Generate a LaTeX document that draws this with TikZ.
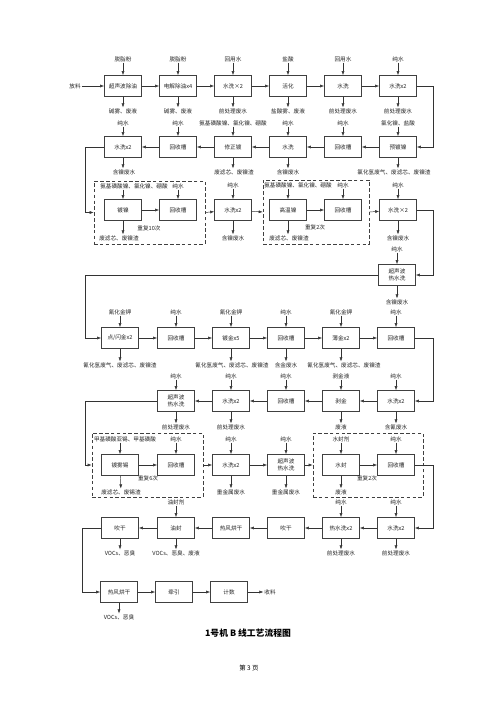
\documentclass[tikz,border=0pt]{standalone}
\usepackage{fontspec}
\setmainfont{Noto Sans CJK SC}
\usetikzlibrary{arrows.meta}

\newcommand{\lblfont}{\fontsize{4.8}{5.6}\selectfont}

\tikzset{
  proc/.style={draw=black!75,line width=0.5pt,minimum width=1.11cm,minimum height=0.63cm,inner sep=1pt,align=center,font=\lblfont,text=black!85},
  lbl/.style={inner sep=0.6pt,font=\lblfont,text=black!85},
  grp/.style={draw=black!75,densely dashed,line width=0.5pt,inner sep=0pt},
  arr/.style={-{Latex[length=1.2mm,width=0.9mm]},draw=black!80,line width=0.4pt},
}

\begin{document}
\begin{tikzpicture}[x=0.03cm,y=-0.03cm]
\useasboundingbox[fill=white] (0,0) rectangle (500,707);
\coordinate (rt) at (433,0);
\coordinate (lf) at (85,0);
\coordinate (lf2) at (82,0);

% row 1
\node[lbl] (fl) at (75,86) {放料};
\node[proc] (a1) at (123,86) {超声波除油};
\node[proc] (a2) at (178,86) {电解除油x4};
\node[proc] (a3) at (233,86) {水洗×2};
\node[proc] (a4) at (288,86) {活化};
\node[proc] (a5) at (343,86) {水洗};
\node[proc] (a6) at (398,86) {水洗x2};
\node[lbl] (ia1) at (123,59) {脱脂粉};
\node[lbl] (ia2) at (178,59) {脱脂粉};
\node[lbl] (ia3) at (233,59) {回用水};
\node[lbl] (ia4) at (288,59) {盐酸};
\node[lbl] (ia5) at (343,59) {回用水};
\node[lbl] (ia6) at (398,59) {纯水};
\node[lbl] (oa1) at (123,111) {碱雾、废液};
\node[lbl] (oa2) at (178,111) {碱雾、废液};
\node[lbl] (oa3) at (233,111) {前处理废水};
\node[lbl] (oa4) at (288,111) {盐酸雾、废液};
\node[lbl] (oa5) at (343,111) {前处理废水};
\node[lbl] (oa6) at (398,111) {前处理废水};
\draw[arr] (fl)--(a1);
\draw[arr] (a1)--(a2);
\draw[arr] (a2)--(a3);
\draw[arr] (a3)--(a4);
\draw[arr] (a4)--(a5);
\draw[arr] (a5)--(a6);
\draw[arr] (ia1)--(a1);
\draw[arr] (ia2)--(a2);
\draw[arr] (ia3)--(a3);
\draw[arr] (ia4)--(a4);
\draw[arr] (ia5)--(a5);
\draw[arr] (ia6)--(a6);
\draw[arr] (a1)--(oa1);
\draw[arr] (a2)--(oa2);
\draw[arr] (a3)--(oa3);
\draw[arr] (a4)--(oa4);
\draw[arr] (a5)--(oa5);
\draw[arr] (a6)--(oa6);

% row 2
\node[proc] (b1) at (123,147) {水洗x2};
\node[proc] (b2) at (178,147) {回收槽};
\node[proc] (b3) at (233,147) {修正镀};
\node[proc] (b4) at (288,147) {水洗};
\node[proc] (b5) at (343,147) {回收槽};
\node[proc] (b6) at (398,147) {预镀镍};
\node[lbl] (ib1) at (123,123) {纯水};
\node[lbl] (ib2) at (178,123) {纯水};
\node[lbl] (ib3) at (233,123) {氨基磺酸镍、氯化镍、硼酸};
\node[lbl] (ib4) at (288,123) {纯水};
\node[lbl] (ib5) at (343,123) {纯水};
\node[lbl] (ib6) at (398,123) {氯化镍、盐酸};
\node[lbl] (ob1) at (124,172) {含镍废水};
\node[lbl] (ob3) at (234,172) {废滤芯、废镍渣};
\node[lbl] (ob4) at (288,172) {含镍废水};
\node[lbl] (ob6) at (394,172) {氯化氢废气、废滤芯、废镍渣};
\draw[arr] (a6.east)--(a6.east -| rt) |- (b6.east);
\draw[arr] (b6)--(b5);
\draw[arr] (b5)--(b4);
\draw[arr] (b4)--(b3);
\draw[arr] (b3)--(b2);
\draw[arr] (b2)--(b1);
\draw[arr] (ib1)--(b1);
\draw[arr] (ib2)--(b2);
\draw[arr] (ib3)--(b3);
\draw[arr] (ib4)--(b4);
\draw[arr] (ib5)--(b5);
\draw[arr] (ib6)--(b6);
\draw[arr] (b1.south)--(b1.south |- ob1.north);
\draw[arr] (b3.south)--(b3.south |- ob3.north);
\draw[arr] (b4)--(ob4);
\draw[arr] (b6.south)--(b6.south |- ob6.north);

% row 3
\node[grp,minimum width=3.33cm,minimum height=1.89cm] (g1) at (149.5,212.5) {};
\node[grp,minimum width=3.18cm,minimum height=1.92cm] (g2) at (316,212) {};
\node[proc] (c1) at (123,210) {镀镍};
\node[proc] (c2) at (178,210) {回收槽};
\node[proc] (c3) at (233,210) {水洗x2};
\node[proc] (c4) at (288,210) {高温镍};
\node[proc] (c5) at (343,210) {回收槽};
\node[proc] (c6) at (398,210) {水洗×2};
\node[lbl] (ic1) at (134,186) {氨基磺酸镍、氯化镍、硼酸};
\node[lbl] (ic2) at (178,186) {纯水};
\node[lbl] (ic3) at (233,185) {纯水};
\node[lbl] (ic4) at (298,185) {氨基磺酸镍、氯化镍、硼酸};
\node[lbl] (ic5) at (343,185) {纯水};
\node[lbl] (ic6) at (398,185) {纯水};
\node[lbl] (oc1) at (119,238) {废滤芯、废镍渣};
\node[lbl] (oc3) at (233,238) {含镍废水};
\node[lbl] (oc4) at (289,238) {废滤芯、废镍渣};
\node[lbl] (oc6) at (398,238) {含镍废水};
\node[lbl] (rp1) at (149,228) {重复10次};
\node[lbl] (rp2) at (315,227) {重复2次};
\draw[arr] (b1.west)--(b1.west -| lf) |- (g1.west);
\draw[arr] (c1)--(c2);
\draw[arr] (g1.east)--(c3);
\draw[arr] (c3)--(g2.west);
\draw[arr] (c4)--(c5);
\draw[arr] (g2.east)--(c6);
\draw[arr] (c1.north |- ic1.south)--(c1.north);
\draw[arr] (ic2)--(c2);
\draw[arr] (ic3)--(c3);
\draw[arr] (c4.north |- ic4.south)--(c4.north);
\draw[arr] (ic5)--(c5);
\draw[arr] (ic6)--(c6);
\draw[arr] (c1.south)--(c1.south |- oc1.north);
\draw[arr] (c3)--(oc3);
\draw[arr] (c4.south)--(c4.south |- oc4.north);
\draw[arr] (c6)--(oc6);

% ultrasonic hot rinse
\node[proc] (s1) at (397,275) {超声波\\热水洗};
\node[lbl] (is1) at (397,249) {纯水};
\node[lbl] (os1) at (397,302) {含镍废水};
\draw[arr] (c6.east)--(c6.east -| rt) |- (s1.east);
\draw[arr] (is1)--(s1);
\draw[arr] (s1)--(os1);

% row 4
\node[proc] (d1) at (120,338) {点/闪金x2};
\node[proc] (d2) at (176,338) {回收槽};
\node[proc] (d3) at (231,338) {镀金x5};
\node[proc] (d4) at (286,338) {回收槽};
\node[proc] (d5) at (341,338) {薄金x2};
\node[proc] (d6) at (396,338) {回收槽};
\node[lbl] (id1) at (120,312) {氰化金钾};
\node[lbl] (id2) at (176,312) {纯水};
\node[lbl] (id3) at (231,312) {氰化金钾};
\node[lbl] (id4) at (286,312) {纯水};
\node[lbl] (id5) at (341,312) {氰化金钾};
\node[lbl] (id6) at (396,312) {纯水};
\node[lbl] (od1) at (120,365) {氰化氢废气、废滤芯、废镍渣};
\node[lbl] (od3) at (232,365) {氰化氢废气、废滤芯、废镍渣};
\node[lbl] (od4) at (286,365) {含金废水};
\node[lbl] (od5) at (344,365) {氰化氢废气、废滤芯、废镍渣};
\draw[arr] (s1.west)--(s1.west -| lf) |- (d1.west);
\draw[arr] (d1)--(d2);
\draw[arr] (d2)--(d3);
\draw[arr] (d3)--(d4);
\draw[arr] (d4)--(d5);
\draw[arr] (d5)--(d6);
\draw[arr] (id1)--(d1);
\draw[arr] (id2)--(d2);
\draw[arr] (id3)--(d3);
\draw[arr] (id4)--(d4);
\draw[arr] (id5)--(d5);
\draw[arr] (id6)--(d6);
\draw[arr] (d1)--(od1);
\draw[arr] (d3.south)--(d3.south |- od3.north);
\draw[arr] (d4)--(od4);
\draw[arr] (d5.south)--(d5.south |- od5.north);

% row 5
\node[proc] (e2) at (176,401) {超声波\\热水洗};
\node[proc] (e3) at (231,401) {水洗x2};
\node[proc] (e4) at (286,401) {回收槽};
\node[proc] (e5) at (341,401) {剥金};
\node[proc] (e6) at (396,401) {水洗x2};
\node[lbl] (ie2) at (176,376) {纯水};
\node[lbl] (ie3) at (231,376) {纯水};
\node[lbl] (ie4) at (286,376) {纯水};
\node[lbl] (ie5) at (341,376) {剥金液};
\node[lbl] (ie6) at (396,376) {纯水};
\node[lbl] (oe2) at (176,427) {前处理废水};
\node[lbl] (oe3) at (231,427) {前处理废水};
\node[lbl] (oe5) at (341,427) {废液};
\node[lbl] (oe6) at (396,427) {含氰废水};
\draw[arr] (d6.east)--(d6.east -| rt) |- (e6.east);
\draw[arr] (e6)--(e5);
\draw[arr] (e5)--(e4);
\draw[arr] (e4)--(e3);
\draw[arr] (e3)--(e2);
\draw[arr] (ie2)--(e2);
\draw[arr] (ie3)--(e3);
\draw[arr] (ie4)--(e4);
\draw[arr] (ie5)--(e5);
\draw[arr] (ie6)--(e6);
\draw[arr] (e2)--(oe2);
\draw[arr] (e3)--(oe3);
\draw[arr] (e5)--(oe5);
\draw[arr] (e6)--(oe6);

% row 6
\node[grp,minimum width=3.33cm,minimum height=1.92cm] (g3) at (147.5,465) {};
\node[grp,minimum width=3.3cm,minimum height=1.92cm] (g4) at (368,465) {};
\node[proc] (f1) at (120,465) {镀雾锡};
\node[proc] (f2) at (176,465) {回收槽};
\node[proc] (f3) at (231,465) {水洗x2};
\node[proc] (f4) at (286,465) {超声波\\热水洗};
\node[proc] (f5) at (341,465) {水封};
\node[proc] (f6) at (396,465) {回收槽};
\node[lbl] (if1) at (125,439) {甲基磺酸亚锡、甲基磺酸};
\node[lbl] (if2) at (176,439) {纯水};
\node[lbl] (if3) at (231,439) {纯水};
\node[lbl] (if4) at (286,439) {纯水};
\node[lbl] (if5) at (341,439) {水封剂};
\node[lbl] (if6) at (396,439) {纯水};
\node[lbl] (of1) at (121,492) {废滤芯、废锡渣};
\node[lbl] (of3) at (231,492) {重金属废水};
\node[lbl] (of4) at (286,492) {重金属废水};
\node[lbl] (of5) at (341,492) {废液};
\node[lbl] (rp3) at (148,478) {重复6次};
\node[lbl] (rp4) at (367,478) {重复2次};
\draw[arr] (e2.west)--(e2.west -| lf) |- (g3.west);
\draw[arr] (f1)--(f2);
\draw[arr] (g3.east)--(f3);
\draw[arr] (f3)--(f4);
\draw[arr] (f4)--(g4.west);
\draw[arr] (f5)--(f6);
\draw[arr] (f1.north |- if1.south)--(f1.north);
\draw[arr] (if2)--(f2);
\draw[arr] (if3)--(f3);
\draw[arr] (if4)--(f4);
\draw[arr] (if5)--(f5);
\draw[arr] (if6)--(f6);
\draw[arr] (f1)--(of1);
\draw[arr] (f3)--(of3);
\draw[arr] (f4)--(of4);
\draw[arr] (f5)--(of5);

% row 7
\node[proc] (h1) at (120,528) {吹干};
\node[proc] (h2) at (176,528) {油封};
\node[proc] (h3) at (231,528) {热风烘干};
\node[proc] (h4) at (286,528) {吹干};
\node[proc] (h5) at (341,528) {热水洗x2};
\node[proc] (h6) at (396,528) {水洗x2};
\node[lbl] (ih2) at (176,502) {油封剂};
\node[lbl] (ih5) at (341,502) {纯水};
\node[lbl] (ih6) at (396,502) {纯水};
\node[lbl] (oh1) at (120,553) {VOCs、恶臭};
\node[lbl] (oh2) at (176,553) {VOCs、恶臭、废液};
\node[lbl] (oh5) at (341,553) {前处理废水};
\node[lbl] (oh6) at (396,553) {前处理废水};
\draw[arr] (f6.east)--(f6.east -| rt) |- (h6.east);
\draw[arr] (h6)--(h5);
\draw[arr] (h5)--(h4);
\draw[arr] (h4)--(h3);
\draw[arr] (h3)--(h2);
\draw[arr] (h2)--(h1);
\draw[arr] (ih2)--(h2);
\draw[arr] (ih5)--(h5);
\draw[arr] (ih6)--(h6);
\draw[arr] (h1)--(oh1);
\draw[arr] (h2)--(oh2);
\draw[arr] (h5)--(oh5);
\draw[arr] (h6)--(oh6);

% row 8
\node[proc] (k1) at (119,592) {热风烘干};
\node[proc] (k2) at (174,592) {牵引};
\node[proc] (k3) at (229,592) {计数};
\node[lbl] (sl) at (270,592) {收料};
\node[lbl] (ok1) at (119,617) {VOCs、恶臭};
\draw[arr] (h1.west)--(h1.west -| lf2) |- (k1.west);
\draw[arr] (k1)--(k2);
\draw[arr] (k2)--(k3);
\draw[arr] (k3)--(sl);
\draw[arr] (k1)--(ok1);

\node[font=\fontsize{7.5}{9}\selectfont\bfseries] (ttl) at (248,633) {1号机 B 线工艺流程图};
\node[font=\fontsize{5.5}{7}\selectfont] (pg) at (249,668) {第 3 页};
\end{tikzpicture}
\end{document}
